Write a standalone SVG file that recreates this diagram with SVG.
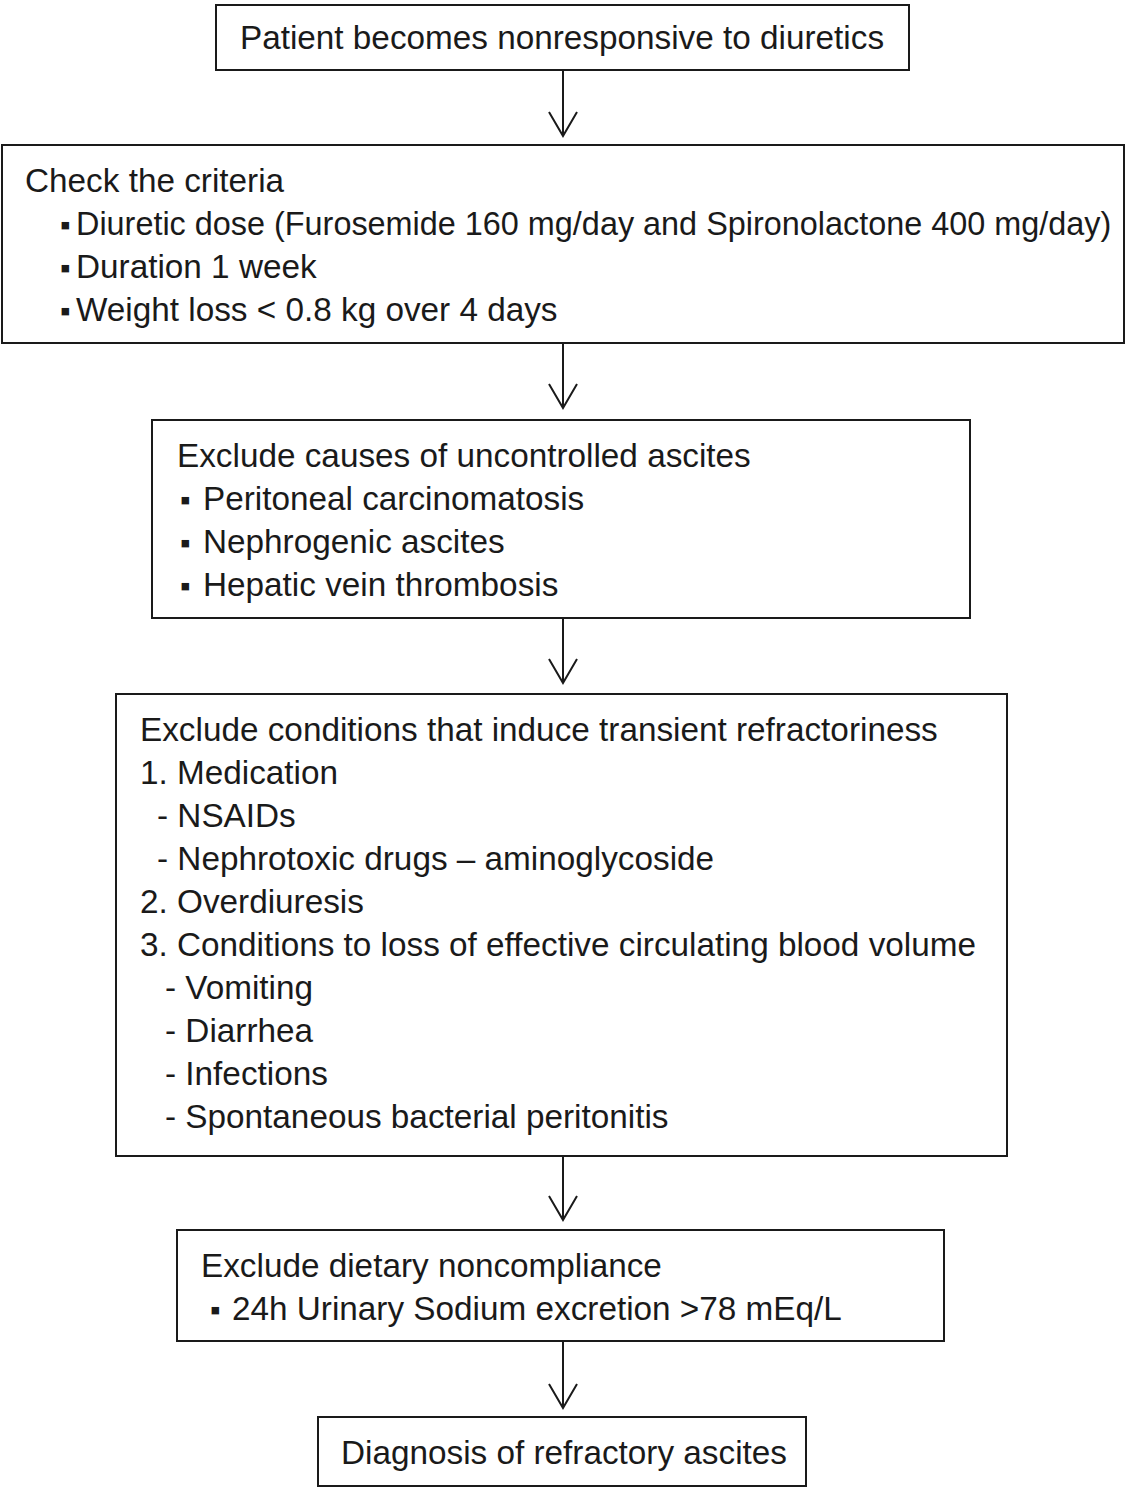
<svg xmlns="http://www.w3.org/2000/svg" width="1125" height="1488" viewBox="0 0 1125 1488">
<style>
.box{fill:#fff;stroke:#1a1a1a;stroke-width:2}
.t{font-family:"Liberation Sans",Arial,sans-serif;font-size:33.3px;fill:#1a1a1a}
.b{font-family:"Liberation Sans",Arial,sans-serif;font-size:30px;fill:#1a1a1a}
.c{fill:none;stroke:#1a1a1a;stroke-width:2}
</style>
<rect width="1125" height="1488" fill="#fff"/>
<g id="connectors">
<path class="c" d="M563 70V136M549 112L563 136L577 112"/>
<path class="c" d="M563 343V408M549 384L563 408L577 384"/>
<path class="c" d="M563 618V683M549 659L563 683L577 659"/>
<path class="c" d="M563 1156V1220M549 1196L563 1220L577 1196"/>
<path class="c" d="M563 1341V1408M549 1384L563 1408L577 1384"/>
</g>
<g id="n1">
<rect class="box" x="216" y="5" width="693" height="65"/>
<text class="t" x="562" y="49" text-anchor="middle">Patient becomes nonresponsive to diuretics</text>
</g>
<g id="n2">
<rect class="box" x="2" y="145" width="1122" height="198"/>
<text class="t" x="25" y="192">Check the criteria</text>
<text class="b" x="60" y="235">▪</text>
<text class="t" x="76" y="235" style="font-size:32.4px">Diuretic dose (Furosemide 160 mg/day and Spironolactone 400 mg/day)</text>
<text class="b" x="60" y="278">▪</text>
<text class="t" x="76" y="278">Duration 1 week</text>
<text class="b" x="60" y="321">▪</text>
<text class="t" x="76" y="321">Weight loss &lt; 0.8 kg over 4 days</text>
</g>
<g id="n3">
<rect class="box" x="152" y="420" width="818" height="198"/>
<text class="t" x="177" y="467">Exclude causes of uncontrolled ascites</text>
<text class="b" x="180" y="510">▪</text>
<text class="t" x="203" y="510">Peritoneal carcinomatosis</text>
<text class="b" x="180" y="553">▪</text>
<text class="t" x="203" y="553">Nephrogenic ascites</text>
<text class="b" x="180" y="596">▪</text>
<text class="t" x="203" y="596">Hepatic vein thrombosis</text>
</g>
<g id="n4">
<rect class="box" x="116" y="694" width="891" height="462"/>
<text class="t" x="140" y="741">Exclude conditions that induce transient refractoriness</text>
<text class="t" x="140" y="784">1. Medication</text>
<text class="t" x="157" y="827">- NSAIDs</text>
<text class="t" x="157" y="870">- Nephrotoxic drugs – aminoglycoside</text>
<text class="t" x="140" y="913">2. Overdiuresis</text>
<text class="t" x="140" y="956">3. Conditions to loss of effective circulating blood volume</text>
<text class="t" x="165" y="999">- Vomiting</text>
<text class="t" x="165" y="1042">- Diarrhea</text>
<text class="t" x="165" y="1085">- Infections</text>
<text class="t" x="165" y="1128">- Spontaneous bacterial peritonitis</text>
</g>
<g id="n5">
<rect class="box" x="177" y="1230" width="767" height="111"/>
<text class="t" x="201" y="1277">Exclude dietary noncompliance</text>
<text class="b" x="210" y="1320">▪</text>
<text class="t" x="232" y="1320">24h Urinary Sodium excretion &gt;78 mEq/L</text>
</g>
<g id="n6">
<rect class="box" x="318" y="1417" width="488" height="69"/>
<text class="t" x="564" y="1464" text-anchor="middle">Diagnosis of refractory ascites</text>
</g>
</svg>
